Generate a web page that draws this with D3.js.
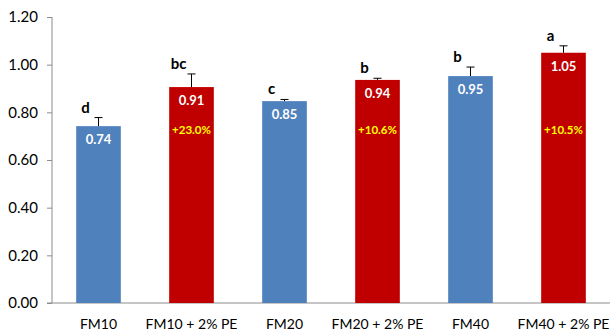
<!DOCTYPE html>
<html><head><meta charset="utf-8">
<script src="https://cdn.jsdelivr.net/npm/d3@7"></script>
<style>body{margin:0;background:#fff}svg{display:block}text{font-family:Lato,"Open Sans",sans-serif}</style>
</head><body><svg id="c" width="611" height="336"></svg>
<script>
const categories = ["FM10","FM10 + 2% PE","FM20","FM20 + 2% PE","FM40","FM40 + 2% PE"];
const values = [0.742, 0.906, 0.847, 0.936, 0.952, 1.050];
const errors = [0.036, 0.055, 0.007, 0.007, 0.038, 0.029];
const letters = ["d","bc","c","b","b","a"];
const increases = ["", "+23.0%", "", "+10.6%", "", "+10.5%"];
const isPE = [false, true, false, true, false, true];
const yTicks = [0, 0.2, 0.4, 0.6, 0.8, 1.0, 1.2];

const svg = d3.select("#c");
const x = d3.scaleBand().domain(categories).range([52, 610]).paddingInner(0.52).paddingOuter(0.26);
const y = d3.scaleLinear().domain([0, 1.2]).range([303, 17]);

const yAxis = svg.append("g").attr("transform","translate(52,0)")
  .call(d3.axisLeft(y).tickValues(yTicks).tickFormat(d3.format(".2f")).tickSize(5).tickPadding(9));
yAxis.select(".domain").attr("stroke","#8c8c8c").attr("d","M0,17V303");
yAxis.selectAll(".tick line").attr("stroke","#8c8c8c");
yAxis.selectAll(".tick text").attr("font-size",15).attr("fill","#000").style("font-family","Lato, sans-serif");

const xAxis = svg.append("g").attr("transform","translate(0,303)")
  .call(d3.axisBottom(x).tickSize(0).tickPadding(16));
xAxis.select(".domain").attr("stroke","#8c8c8c").attr("d","M47,0H610");
xAxis.selectAll(".tick text").attr("font-size",14).attr("fill","#000").style("font-family","Lato, sans-serif");

const data = categories.map((c,i)=>({c, v:values[i], e:errors[i], l:letters[i], p:increases[i], pe:isPE[i]}));
const g = svg.append("g");
g.selectAll("rect").data(data).join("rect")
  .attr("x", d=>x(d.c)).attr("width", x.bandwidth())
  .attr("y", d=>y(d.v)).attr("height", d=>y(0)-y(d.v))
  .attr("fill", d=>d.pe ? "#c00000" : "#4f81bd");

const eb = g.selectAll("g.eb").data(data).join("g").attr("class","eb");
eb.append("line").attr("x1", d=>x(d.c)+x.bandwidth()/2).attr("x2", d=>x(d.c)+x.bandwidth()/2)
  .attr("y1", d=>y(d.v)).attr("y2", d=>y(d.v+d.e)).attr("stroke","#000").attr("stroke-width",1);
eb.append("line").attr("x1", d=>x(d.c)+x.bandwidth()/2-4).attr("x2", d=>x(d.c)+x.bandwidth()/2+4)
  .attr("y1", d=>y(d.v+d.e)).attr("y2", d=>y(d.v+d.e)).attr("stroke","#000").attr("stroke-width",1);

g.selectAll("text.val").data(data).join("text").attr("class","val")
  .attr("x", d=>x(d.c)+x.bandwidth()/2).attr("y", d=>y(d.v)+18)
  .attr("text-anchor","middle").attr("font-size",13).attr("font-weight","bold").attr("fill","#fff")
  .text(d=>d.v.toFixed(2));

g.selectAll("text.pct").data(data.filter(d=>d.p)).join("text").attr("class","pct")
  .attr("x", d=>x(d.c)+x.bandwidth()/2).attr("y", y(0.71))
  .attr("text-anchor","middle").attr("font-size",11.5).attr("font-weight","bold").attr("fill","#ffff00")
  .text(d=>d.p);

g.selectAll("text.let").data(data).join("text").attr("class","let")
  .attr("x", d=>x(d.c)+x.bandwidth()/2-13).attr("y", d=>y(d.v+d.e)-5)
  .attr("text-anchor","middle").attr("font-size",15).attr("font-weight","bold").attr("fill","#000")
  .text(d=>d.l);
</script></body></html>
